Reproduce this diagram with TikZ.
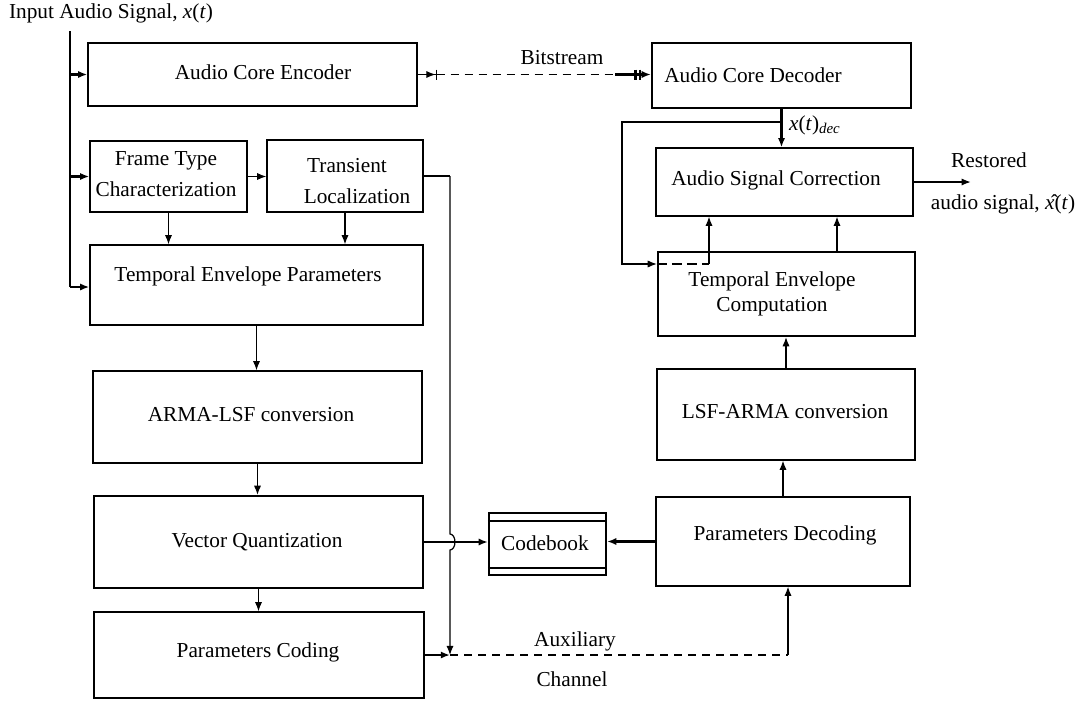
\documentclass[tikz,border=0pt]{standalone}
\usepackage{fontspec}
\setmainfont{Liberation Serif}
\usetikzlibrary{arrows.meta,fit}
\begin{document}
\begin{tikzpicture}[x=0.5pt,y=-0.5pt,
  font=\fontsize{10.65}{12.8}\selectfont,
  box/.style={draw, line width=0.7pt, inner sep=0pt},
  boxb/.style={box, line width=1.1pt},
  txt/.style={inner sep=0pt, align=center},
  txt2/.style={txt, font=\fontsize{10.65}{15.5}\selectfont},
  arr/.style={line width=0.6pt, -{Latex[length=4.6pt,width=3.6pt]}},
  tarr/.style={line width=1.1pt, -{Latex[length=4.6pt,width=3.6pt]}},
  thin/.style={line width=0.6pt},
  thickl/.style={line width=1.1pt},
  dsh/.style={dash pattern=on 4pt off 3pt}]
\useasboundingbox (0,0) rectangle (1085,702);

% ---- boxes
\node[box,  fit={(88,43) (417,106)}]  (enc) {};
\node[box,  fit={(90,141) (247,212)}] (fr) {};
\node[box,  fit={(267,140) (423,212)}] (tr) {};
\node[box,  fit={(90,245) (423,325)}] (tep) {};
\node[box,  fit={(93,371) (422,463)}] (arma) {};
\node[boxb, fit={(94,496) (423,588)}] (vq) {};
\node[box,  fit={(94,612) (424,698)}] (pc) {};
\node[boxb, fit={(489,513) (606,575)}] (cb) {};
\node[box,  fit={(656,497) (910,586)}] (pd) {};
\node[box,  fit={(657,369) (915,460)}] (lsf) {};
\node[boxb, fit={(658,252) (915,336)}] (tec) {};
\node[box,  fit={(656,148) (913,216)}] (asc) {};
\node[boxb, fit={(652,43) (911,108)}]  (acd) {};

\draw[thin]   ([yshift=-4.5pt]cb.north west) -- ([yshift=-4.5pt]cb.north east);
\draw[thickl] ([yshift=4pt]cb.south west) -- ([yshift=4pt]cb.south east);

% ---- texts
\node[txt] (inT) at (111,13) {Input Audio Signal, \textit{x}(\textit{t})};
\node[txt] (encT) at (263,72) {Audio Core Encoder};
\node[txt2] (frT) at (166,174) {Frame Type\\Characterization};
\node[txt2] (trT) at (347,181) {Transient\\\hspace*{10pt}Localization};
\node[txt] (tepT) at (248,276) {Temporal Envelope Parameters};
\node[txt] (armaT) at (251,415) {ARMA-LSF conversion};
\node[txt] (vqT) at (257,542) {Vector Quantization};
\node[txt] (pcT) at (258,652) {Parameters Coding};
\node[txt] (cbT) at (545,543) {Codebook};
\node[txt] (pdT) at (785,535) {Parameters Decoding};
\node[txt] (lsfT) at (785,412) {LSF-ARMA conversion};
\node[txt] (tecT) at (772,294) {Temporal Envelope\\Computation};
\node[txt] (ascT) at (776,180) {Audio Signal Correction};
\node[txt] (acdT) at (753,75) {Audio Core Decoder};
\node[txt] (bsT) at (562,58) {Bitstream};
\node[txt] (auxT) at (575,641) {Auxiliary};
\node[txt] (chT) at (572,679) {Channel};
\node[txt] (xdT) at (815,125) {\textit{x}(\textit{t})\textsubscript{\textit{dec}}};
\node[txt] (rsT) at (989,160) {Restored};
\node[txt] (auT) at (1003,204) {audio signal, \^{\textit{x}}(\textit{t})};

% ---- helper coordinates
\coordinate (in0) at (70,31);
\coordinate (in1) at (70,287);
\coordinate (jx) at (450,0);
\coordinate (rc) at (788,0);
\coordinate (b2) at (615,0);
\coordinate (fbA) at (781,122);
\coordinate (fbL) at (622,264);
\coordinate (fbR) at (709,264);
\coordinate (t2) at (837,0);

% ---- encoder side
\draw[thickl] (in0) -- (in1);
\draw[tarr] (in0 |- enc.west) -- (enc.west);
\draw[tarr] (in0 |- fr.west) -- (fr.west);
\draw[tarr] (in1) -- (in1 -| tep.west);
\draw[arr] (fr.east) -- (fr.east -| tr.west);
\draw[arr] (fr.south) -- (fr.south |- tep.north);
\draw[arr] (tr.south) -- (tr.south |- tep.north);
\draw[arr] (tep.south) -- (tep.south |- arma.north);
\draw[arr] (arma.south) -- (arma.south |- vq.north);
\draw[arr] (vq.south) -- (vq.south |- pc.north);

% transient line with jump
\draw[thickl] (tr.east) -- (tr.east -| jx);
\draw[arr] (tr.east -| jx) -- ([yshift=4pt]vq.east -| jx)
   arc[start angle=90, end angle=-90, x radius=2.5pt, y radius=4pt]
   -- (jx |- pc.east);
\draw[tarr] (vq.east) -- (vq.east -| cb.west);
\draw[tarr] (pd.west) -- (pd.west -| cb.east);

% auxiliary channel
\draw[tarr] (pc.east) -- (pc.east -| jx);
\draw[thin, dsh] (pc.east -| jx) -- (pc.east -| rc);
\draw[arr] (pc.east -| rc) -- (rc |- pd.south);

% bitstream
\draw[thin, -{Latex[length=4.6pt,width=3.6pt] Bar[width=5pt]}] (enc.east) -- ++(19,0) coordinate (b1);
\draw[thin, dsh] (b1) -- (b1 -| b2);
\draw[thickl, -{Bar[width=5pt,sep=1pt] Bar[width=5pt,sep=0.5pt] Latex[length=4.6pt,width=3.6pt]}] (b1 -| b2) -- (b1 -| acd.west);

% decoder side
\draw[arr] (pd.north) -- (pd.north |- lsf.south);
\draw[arr] (lsf.north) -- (lsf.north |- tec.south);
\draw[tarr] (acd.south) -- (acd.south |- asc.north);
\draw[arr] (fbA) -| (fbL) -- (fbL -| tec.west);
\draw[thickl, dash pattern=on 5pt off 2.5pt] (fbL -| tec.west) -- (fbR);
\draw[arr] (fbR) -- (fbR |- asc.south);
\draw[arr] (t2 |- tec.north) -- (t2 |- asc.south);
\draw[arr] (asc.east) -- ++(57,0) coordinate (out);
\end{tikzpicture}
\end{document}
